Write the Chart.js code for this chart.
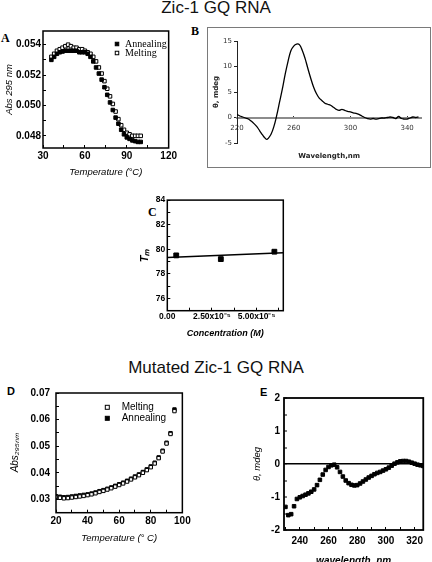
<!DOCTYPE html>
<html>
<head>
<meta charset="utf-8">
<script src="https://cdn.jsdelivr.net/npm/chart.js@4/dist/chart.umd.min.js"></script>
<style>
  body { margin: 0; width: 432px; height: 562px; overflow: hidden; background: #fff; position: relative; font-family: Arial, "Liberation Sans", sans-serif; }
  canvas { position: absolute; }
  .title { position: absolute; left: 0; width: 432px; text-align: center; font-size: 17px; line-height: 17px; color: #111; }
  .lbl { position: absolute; font-weight: bold; line-height: 12px; color: #000; }
  .serif { font-family: "Liberation Serif", "Times New Roman", serif; font-size: 12px; }
  .sans { font-family: Arial, "Liberation Sans", sans-serif; font-size: 11px; }
  #boxB { position: absolute; left: 207px; top: 27px; width: 224px; height: 141px; border: 1.5px solid #7a7a7a; box-sizing: border-box; }
</style>
</head>
<body>
<div class="title" style="top:-1px">Zic-1 GQ RNA</div>
<div class="title" style="top:359px">Mutated Zic-1 GQ RNA</div>
<div class="lbl serif" style="left:1px;top:32px">A</div>
<div class="lbl serif" style="left:191px;top:25px">B</div>
<div class="lbl serif" style="left:148px;top:206px">C</div>
<div class="lbl sans" style="left:7px;top:385px">D</div>
<div class="lbl sans" style="left:260px;top:386px">E</div>
<div id="boxB"></div>
<canvas id="chartA" width="182" height="162" style="left:0;top:20px"></canvas>
<canvas id="chartB" width="220" height="137" style="left:209px;top:29px"></canvas>
<canvas id="chartC" width="160" height="152" style="left:135px;top:190px"></canvas>
<canvas id="chartD" width="196" height="170" style="left:0;top:378px"></canvas>
<canvas id="chartE" width="182" height="185" style="left:250px;top:385px"></canvas>
<script>
// ---- A: Zic-1 GQ RNA, absorbance at 295 nm vs temperature
const tempA = [36, 38, 40, 42, 44, 46, 48, 50, 52, 54, 56, 58, 60, 62, 64, 66, 68, 70, 72, 74, 76, 78, 80, 82, 84, 86, 88, 90, 92, 94, 96, 98, 100];
const annealA = [0.0530, 0.0532, 0.0534, 0.0535, 0.05355, 0.0536, 0.0536, 0.0536, 0.0536, 0.0536, 0.0535, 0.0535, 0.0535, 0.0534, 0.0532, 0.0529, 0.0525, 0.0521, 0.0517, 0.0512, 0.0507, 0.0502, 0.0497, 0.0492, 0.0488, 0.0484, 0.0481, 0.0479, 0.0478, 0.0477, 0.04765, 0.0476, 0.0476];
const meltA = [0.0532, 0.0534, 0.0536, 0.0537, 0.0538, 0.0539, 0.0540, 0.0539, 0.0538, 0.0538, 0.0537, 0.0537, 0.0536, 0.0535, 0.0534, 0.0532, 0.0529, 0.0525, 0.0521, 0.0516, 0.0511, 0.0506, 0.0501, 0.0496, 0.0491, 0.0487, 0.0484, 0.0482, 0.0481, 0.0480, 0.0480, 0.0480, 0.0480];

// ---- B: CD spectrum of Zic-1 GQ RNA
const wlB = [220, 222, 224, 226, 228, 230, 232, 234, 236, 238, 240, 241, 242, 244, 246, 248, 250, 252, 254, 256, 258, 260, 262, 264, 266, 268, 270, 272, 274, 276, 278, 280, 282, 284, 286, 288, 290, 292, 294, 296, 298, 300, 302, 304, 306, 308, 310, 312, 314, 316, 318, 320, 322, 324, 326, 328, 330, 332, 334, 336, 338, 340, 342, 344, 346, 348];
const cdB = [0.6, 0.3, 0.1, -0.1, -0.3, -0.7, -1.2, -1.8, -2.6, -3.4, -4.1, -4.3, -4.1, -3.3, -1.8, 0.4, 3.0, 5.6, 8.5, 11.0, 13.1, 14.0, 14.4, 14.3, 13.2, 11.6, 9.6, 7.7, 6.0, 4.7, 3.8, 3.3, 2.8, 2.6, 2.4, 2.0, 1.6, 1.4, 1.6, 1.4, 1.2, 1.1, 0.9, 0.8, 0.6, 0.3, 0.0, -0.2, -0.3, -0.2, -0.3, -0.2, -0.1, -0.1, 0.0, 0.1, 0.0, -0.2, 0.2, -0.2, -0.3, -0.3, -0.1, 0.1, 0.0, 0.1];
const wlTicksB = [220, 260, 300, 340];

// ---- C: Tm vs concentration
const concC = [0.5e-5, 3.0e-5, 6.0e-5];
const tmC = [79.5, 79.2, 79.8];
const fitConcC = [0, 6.5e-5];
const fitTmC = [79.32, 79.71];
const concTickLabels = ['0.00', '2.50x10\u207B\u2075', '5.00x10\u207B\u2075'];

// ---- D: mutated Zic-1 GQ RNA, absorbance vs temperature
const tempD = [20, 22.5, 25, 27.5, 30, 32.5, 35, 37.5, 40, 42.5, 45, 47.5, 50, 52.5, 55, 57.5, 60, 62.5, 65, 67.5, 70, 72.5, 75, 77.5, 80, 82.5, 85, 87.5, 90, 92.5, 95];
const meltD = [0.0309, 0.0306, 0.0304, 0.0305, 0.0307, 0.0309, 0.0311, 0.0313, 0.0316, 0.0319, 0.0323, 0.0328, 0.0332, 0.0337, 0.0342, 0.0348, 0.0354, 0.0360, 0.0367, 0.0375, 0.0383, 0.0391, 0.0400, 0.0410, 0.0421, 0.0435, 0.0455, 0.0480, 0.0510, 0.0546, 0.0632];
const annealD = [0.0312, 0.0310, 0.0308, 0.0309, 0.0311, 0.0313, 0.0315, 0.0317, 0.0319, 0.0322, 0.0326, 0.0331, 0.0335, 0.0340, 0.0345, 0.0351, 0.0357, 0.0363, 0.0370, 0.0378, 0.0386, 0.0394, 0.0403, 0.0413, 0.0424, 0.0438, 0.0458, 0.0483, 0.0513, 0.0549, 0.0638];

// ---- E: CD spectrum of mutated RNA
const wlE = [230, 232, 234, 236, 238, 240, 242, 244, 246, 248, 250, 252, 254, 256, 258, 260, 262, 264, 266, 268, 270, 272, 274, 276, 278, 280, 282, 284, 286, 288, 290, 292, 294, 296, 298, 300, 302, 304, 306, 308, 310, 312, 314, 316, 318, 320, 322, 324, 326];
const cdE = [-1.30, -1.55, -1.52, -1.28, -1.06, -1.01, -0.97, -0.93, -0.89, -0.84, -0.77, -0.64, -0.48, -0.32, -0.18, -0.09, -0.04, -0.02, -0.10, -0.24, -0.38, -0.50, -0.58, -0.63, -0.65, -0.64, -0.59, -0.53, -0.47, -0.41, -0.36, -0.31, -0.27, -0.24, -0.20, -0.16, -0.11, -0.05, 0.01, 0.05, 0.08, 0.09, 0.09, 0.07, 0.04, 0.01, -0.02, -0.04, -0.06];

const pts = (xs, ys) => xs.map((x, i) => ({ x: x, y: ys[i] }));

// box around the plot area
const frame = {
  id: 'frame',
  afterDraw(chart, args, opts) {
    if (!opts.width) return;
    const { ctx, chartArea: a } = chart;
    ctx.save();
    ctx.strokeStyle = opts.color || '#000';
    ctx.lineWidth = opts.width;
    ctx.strokeRect(a.left, a.top, a.right - a.left, a.bottom - a.top);
    ctx.restore();
  }
};

// small legend drawn inside the plot area
const innerLegend = {
  id: 'innerLegend',
  afterDraw(chart, args, opts) {
    if (!opts.items) return;
    const { ctx, chartArea: a } = chart;
    ctx.save();
    ctx.font = opts.font;
    ctx.textBaseline = 'middle';
    opts.items.forEach((idx, i) => {
      const ds = chart.data.datasets[idx];
      const x = a.left + opts.x, y = a.top + opts.y + i * opts.gap, s = opts.box;
      ctx.fillStyle = ds.pointBackgroundColor;
      ctx.strokeStyle = ds.pointBorderColor;
      ctx.lineWidth = 1;
      ctx.fillRect(x - s / 2, y - s / 2, s, s);
      ctx.strokeRect(x - s / 2, y - s / 2, s, s);
      ctx.fillStyle = '#000';
      ctx.fillText(ds.label, x + opts.dx, y);
    });
    ctx.restore();
  }
};

function frameAxis(pos, o) {
  return {
    type: 'linear', position: pos, min: o.min, max: o.max,
    afterFit: s => { if (pos === 'bottom') s.height = o.size; else s.width = o.size; },
    border: { display: false },
    grid: { drawOnChartArea: false, tickLength: -3, tickColor: '#000', tickWidth: 1 },
    ticks: { stepSize: o.step, includeBounds: false, autoSkip: false, maxRotation: 0, padding: o.pad, color: '#000', font: o.font, callback: o.label },
    title: { display: true, text: o.title, color: '#000', font: o.titleFont, padding: o.titlePad }
  };
}

const base = {
  responsive: false, animation: false, devicePixelRatio: 1,
  events: [],
  plugins: { legend: { display: false }, tooltip: { enabled: false } }
};

function scatterSet(label, data, filled, r) {
  return {
    label: label, data: data, showLine: false,
    pointStyle: 'rect', pointRadius: r, pointBorderWidth: 1,
    pointBackgroundColor: filled ? '#000' : '#fff', pointBorderColor: '#000'
  };
}

// ---------- A ----------
new Chart(document.getElementById('chartA'), {
  type: 'scatter',
  data: { datasets: [
    scatterSet('Annealing', pts(tempA, annealA), true, 2.5),
    scatterSet('Melting', pts(tempA, meltA), false, 2.5)
  ] },
  options: Object.assign({}, base, {
    layout: { padding: { top: 8, right: 10, left: 0, bottom: 0 } },
    scales: {
      x: frameAxis('bottom', { min: 30, max: 120, step: 15, size: 34, pad: 5,
        font: { size: 10, weight: 'bold' }, label: v => v % 30 === 0 ? v : '',
        title: 'Temperature (\u00B0C)', titleFont: { size: 9.5, style: 'italic' }, titlePad: { top: 0, bottom: 4 } }),
      y: frameAxis('left', { min: 0.0472, max: 0.0549, step: 0.001, size: 43, pad: 5,
        font: { size: 10, weight: 'bold' }, label: v => Math.round(v * 1000) % 2 === 0 ? v.toFixed(3) : '',
        title: 'Abs 295 nm', titleFont: { size: 9.5, style: 'italic' }, titlePad: { top: 4, bottom: 0 } })
    },
    plugins: Object.assign({}, base.plugins, {
      frame: { width: 1.5 },
      innerLegend: { items: [0, 1], x: 74, y: 13, gap: 9, box: 3.5, dx: 8, font: '10px "Liberation Serif", "Times New Roman", serif' }
    })
  }),
  plugins: [frame, innerLegend]
});

// ---------- B ----------
new Chart(document.getElementById('chartB'), {
  type: 'line',
  data: { datasets: [{
    label: 'CD', data: pts(wlB, cdB), xAxisID: 'x', yAxisID: 'y',
    borderColor: '#000', borderWidth: 1.3, pointRadius: 0, tension: 0.4, fill: false
  }] },
  options: Object.assign({}, base, {
    layout: { padding: { top: 12, right: 7.7, left: 0, bottom: 0 } },
    scales: {
      x: {
        type: 'linear', position: { y: 0 }, min: 220, max: 350,
        afterBuildTicks: s => { s.ticks = wlTicksB.map(v => ({ value: v })); },
        border: { display: true, color: '#8c8c8c', width: 2 },
        grid: { drawOnChartArea: false, tickLength: -3, tickColor: '#333', tickWidth: 1 },
        ticks: { maxRotation: 0, padding: 9, color: '#333', font: { family: 'DejaVu Sans', size: 7 } }
      },
      xt: {
        type: 'linear', position: 'bottom', afterFit: s => { s.height = 23; },
        grid: { display: false }, border: { display: false }, ticks: { display: false },
        title: { display: true, text: 'Wavelength,nm', color: '#222', font: { family: 'DejaVu Sans', size: 7, weight: 'bold' }, padding: { top: 0, bottom: 5.8 } }
      },
      y: {
        type: 'linear', position: 'left', min: -5, max: 15,
        afterFit: s => { s.width = 28; },
        border: { display: true, color: '#222', width: 1 },
        grid: { drawOnChartArea: false, tickLength: 3, tickColor: '#222' },
        ticks: { stepSize: 5, padding: 2, color: '#333', font: { family: 'DejaVu Sans', size: 7 } },
        title: { display: true, text: '\u03B8, mdeg', color: '#222', font: { family: 'DejaVu Sans', size: 7, weight: 'bold' }, padding: { top: 2.8, bottom: 0 } }
      }
    }
  })
});

// ---------- C ----------
new Chart(document.getElementById('chartC'), {
  type: 'scatter',
  data: { datasets: [
    scatterSet('Tm', pts(concC, tmC), true, 3.4),
    { label: 'fit', data: pts(fitConcC, fitTmC), showLine: true, borderColor: '#000', borderWidth: 1.5, pointRadius: 0 }
  ] },
  options: Object.assign({}, base, {
    layout: { padding: { top: 9, right: 11.7, left: 0, bottom: 0 } },
    scales: {
      x: frameAxis('bottom', { min: 0, max: 6.5e-5, step: 1.25e-5, size: 31.3, pad: 4,
        font: { size: 8.5, weight: 'bold' }, label: (v, i) => i % 2 === 0 ? concTickLabels[i / 2] : '',
        title: 'Concentration (M)', titleFont: { size: 9, style: 'italic', weight: 'bold' }, titlePad: { top: 0, bottom: 3 } }),
      y: frameAxis('left', { min: 75, max: 84, step: 1, size: 32.3, pad: 5,
        font: { size: 8.5, weight: 'bold' }, label: v => v % 2 === 0 ? v : '',
        title: 'T\u2098', titleFont: { size: 11, style: 'italic', weight: 'bold' }, titlePad: { top: 3.4, bottom: 0 } })
    },
    plugins: Object.assign({}, base.plugins, { frame: { width: 1.5 } })
  }),
  plugins: [frame]
});

// ---------- D ----------
new Chart(document.getElementById('chartD'), {
  type: 'scatter',
  data: { datasets: [
    scatterSet('Melting', pts(tempD, meltD), false, 2.4),
    scatterSet('Annealing', pts(tempD, annealD), true, 2.4)
  ] },
  options: Object.assign({}, base, {
    layout: { padding: { top: 7.7, right: 8, left: 0, bottom: 0 } },
    scales: {
      x: frameAxis('bottom', { min: 20, max: 100, step: 10, size: 35.3, pad: 5.3,
        font: { size: 10, weight: 'bold' }, label: v => v % 20 === 0 ? v : '',
        title: 'Temperature (\u00B0 C)', titleFont: { size: 9.5, style: 'italic' }, titlePad: { top: 0, bottom: 4 } }),
      y: frameAxis('left', { min: 0.025, max: 0.07, step: 0.005, size: 56, pad: 9,
        font: { size: 10, weight: 'bold' }, label: v => Math.round(v * 1000) % 10 === 0 ? v.toFixed(2) : '',
        title: 'Abs\u2082\u2089\u2085\u2099\u2098', titleFont: { size: 10, style: 'italic' }, titlePad: { top: 9, bottom: 0 } })
    },
    plugins: Object.assign({}, base.plugins, {
      frame: { width: 1.5 },
      innerLegend: { items: [0, 1], x: 51.3, y: 14.3, gap: 11, box: 4, dx: 14.4, font: '10px Arial, "Liberation Sans", sans-serif' }
    })
  }),
  plugins: [frame, innerLegend]
});

// ---------- E ----------
const axE = frameAxis('left', { min: -2, max: 2, step: 0.5, size: 34, pad: 7,
  font: { size: 10, weight: 'bold' }, label: v => Number.isInteger(v) ? v : '',
  title: '\u03B8, mdeg', titleFont: { size: 9.5, style: 'italic' }, titlePad: { top: 2, bottom: 0 } });
axE.grid = {
  drawOnChartArea: true, tickLength: -3, tickColor: '#000', tickWidth: 1,
  color: c => (c.tick && c.tick.value === 0) ? '#000' : 'rgba(0,0,0,0)',
  lineWidth: c => (c.tick && c.tick.value === 0) ? 1.5 : 0
};
new Chart(document.getElementById('chartE'), {
  type: 'scatter',
  data: { datasets: [ scatterSet('CD', pts(wlE, cdE), true, 2.5) ] },
  options: Object.assign({}, base, {
    layout: { padding: { top: 7.3, right: 4.3, left: 0, bottom: 0 } },
    scales: {
      x: frameAxis('bottom', { min: 229, max: 326, step: 10, size: 40, pad: 8.7,
        font: { size: 10, weight: 'bold' }, label: v => v % 20 === 0 ? v : '',
        title: 'wavelength, nm', titleFont: { size: 10, style: 'italic', weight: 'bold' }, titlePad: { top: 0, bottom: 3 } }),
      y: axE
    },
    plugins: Object.assign({}, base.plugins, { frame: { width: 1.8 } })
  }),
  plugins: [frame]
});
</script>
</body>
</html>
